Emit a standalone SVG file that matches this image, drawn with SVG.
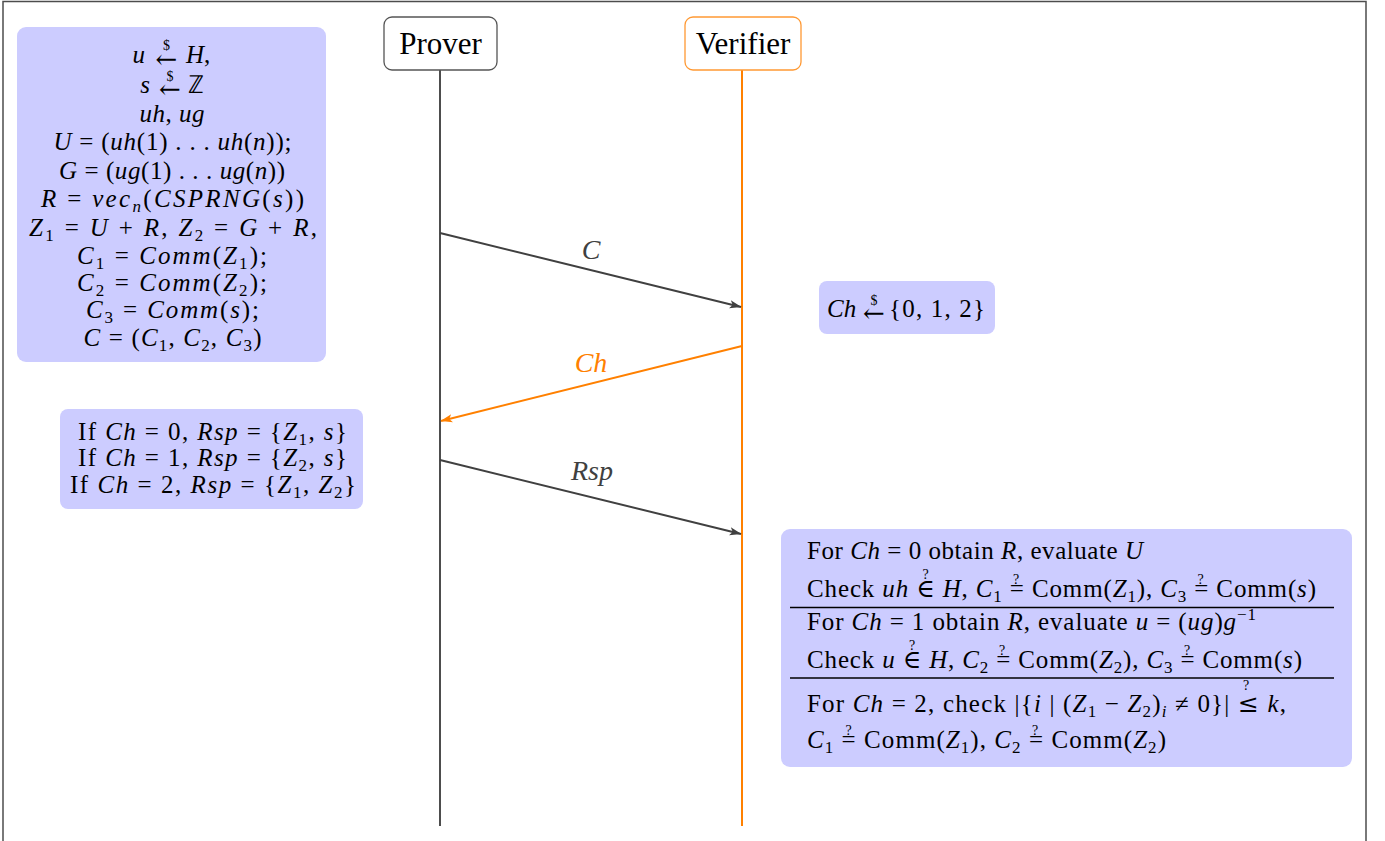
<svg xmlns="http://www.w3.org/2000/svg" width="1385" height="841" viewBox="0 0 1385 841" font-family="Liberation Serif, serif">
<defs>
<style>
.t{font-size:25px;fill:#000}
.c{text-anchor:middle}
.e{text-anchor:end}
.i{font-style:italic}
.s{font-size:17px}
.o{font-size:14px;text-anchor:middle;fill:#000}
.d{font-size:14px;text-anchor:middle;fill:#000}
.ar{font-size:26px;text-anchor:middle;fill:#000}
.box{fill:#ccccff}
.ttl{font-size:31px;fill:#000;text-anchor:middle}
.lbl{font-size:28px;font-style:italic;text-anchor:middle}
.msg{fill:none;stroke-width:2}
</style>
<marker id="ag" viewBox="0 0 12 10" refX="11.5" refY="5" markerWidth="12" markerHeight="10" markerUnits="userSpaceOnUse" orient="auto"><path d="M0,0.8 L12,5 L0,9.2 L3,5 Z" fill="#404040"/></marker>
<marker id="ao" viewBox="0 0 12 10" refX="11.5" refY="5" markerWidth="12" markerHeight="10" markerUnits="userSpaceOnUse" orient="auto"><path d="M0,0.8 L12,5 L0,9.2 L3,5 Z" fill="#ff8000"/></marker>
</defs>
<rect x="0" y="0" width="1385" height="841" fill="#fff"/>
<rect x="3" y="1.5" width="1363" height="870" fill="none" stroke="#4d4d4d" stroke-width="1.5"/>

<g id="prover">
<line x1="440" y1="70" x2="440" y2="826" stroke="#4d4d4d" stroke-width="2"/>
<rect x="384" y="17" width="113" height="53" rx="8" fill="#fff" stroke="#555" stroke-width="1.3"/>
<text class="ttl" x="440.5" y="54">Prover</text>
</g>
<g id="verifier">
<line x1="742" y1="70" x2="742" y2="826" stroke="#ff8000" stroke-width="2"/>
<rect x="685" y="17" width="116" height="53" rx="8" fill="#fff" stroke="#ff9933" stroke-width="1.3"/>
<text class="ttl" x="743" y="54">Verifier</text>
</g>

<g id="connectors">
<line class="msg" x1="440" y1="233" x2="741" y2="307" stroke="#404040" marker-end="url(#ag)"/>
<text class="lbl" x="591" y="259" fill="#404040">C</text>
<line class="msg" x1="742" y1="346" x2="441" y2="421" stroke="#ff8000" marker-end="url(#ao)"/>
<text class="lbl" x="591" y="372" fill="#ff8000">Ch</text>
<line class="msg" x1="440" y1="460" x2="741" y2="534" stroke="#404040" marker-end="url(#ag)"/>
<text class="lbl" x="592" y="480" fill="#404040">Rsp</text>
</g>

<g id="commit">
<rect class="box" x="17" y="27" width="309" height="335" rx="9"/>
<text class="t i e" x="145" y="63">u</text>
<text class="ar" x="166.5" y="68" font-family="DejaVu Serif">←</text>
<text class="d" x="166.5" y="50">$</text>
<text class="t" x="186" y="63"><tspan class="i">H</tspan>,</text>
<text class="t i e" x="150" y="93">s</text>
<text class="ar" x="170" y="98" font-family="DejaVu Serif">←</text>
<text class="d" x="170" y="80.5">$</text>
<text class="t" x="188" y="93">ℤ</text>
<text class="t c" x="172" y="122" textLength="65"><tspan class="i">uh</tspan>, <tspan class="i">ug</tspan></text>
<text class="t c" x="172.5" y="150" textLength="238"><tspan class="i">U</tspan> = (<tspan class="i">uh</tspan>(1) . . . <tspan class="i">uh</tspan>(<tspan class="i">n</tspan>));</text>
<text class="t c" x="172" y="179" textLength="226"><tspan class="i">G</tspan> = (<tspan class="i">ug</tspan>(1) . . . <tspan class="i">ug</tspan>(<tspan class="i">n</tspan>))</text>
<text class="t c" x="172.5" y="207" textLength="263"><tspan class="i">R</tspan> = <tspan class="i">vec</tspan><tspan class="s i" dy="5">n</tspan><tspan dy="-5">(</tspan><tspan class="i">CSPRNG</tspan>(<tspan class="i">s</tspan>))</text>
<text class="t c" x="173" y="236" textLength="288"><tspan class="i">Z</tspan><tspan class="s" dy="5">1</tspan><tspan dy="-5"> = </tspan><tspan class="i">U</tspan> + <tspan class="i">R</tspan>,   <tspan class="i">Z</tspan><tspan class="s" dy="5">2</tspan><tspan dy="-5"> = </tspan><tspan class="i">G</tspan> + <tspan class="i">R</tspan>,</text>
<text class="t c" x="172" y="264" textLength="190"><tspan class="i">C</tspan><tspan class="s" dy="5">1</tspan><tspan dy="-5"> = </tspan><tspan class="i">Comm</tspan>(<tspan class="i">Z</tspan><tspan class="s" dy="5">1</tspan><tspan dy="-5">);</tspan></text>
<text class="t c" x="172" y="291" textLength="190"><tspan class="i">C</tspan><tspan class="s" dy="5">2</tspan><tspan dy="-5"> = </tspan><tspan class="i">Comm</tspan>(<tspan class="i">Z</tspan><tspan class="s" dy="5">2</tspan><tspan dy="-5">);</tspan></text>
<text class="t c" x="172.5" y="318" textLength="173"><tspan class="i">C</tspan><tspan class="s" dy="5">3</tspan><tspan dy="-5"> = </tspan><tspan class="i">Comm</tspan>(<tspan class="i">s</tspan>);</text>
<text class="t c" x="172.5" y="346" textLength="178"><tspan class="i">C</tspan> = (<tspan class="i">C</tspan><tspan class="s" dy="5">1</tspan><tspan dy="-5">, </tspan><tspan class="i">C</tspan><tspan class="s" dy="5">2</tspan><tspan dy="-5">, </tspan><tspan class="i">C</tspan><tspan class="s" dy="5">3</tspan><tspan dy="-5">)</tspan></text>
</g>

<g id="challenge">
<rect class="box" x="819" y="281" width="176" height="53" rx="8"/>
<text class="t i" x="827" y="317">Ch</text>
<text class="ar" x="874" y="322" font-family="DejaVu Serif">←</text>
<text class="d" x="874" y="304.5">$</text>
<text class="t" x="889" y="317" textLength="96">{0, 1, 2}</text>
</g>

<g id="response">
<rect class="box" x="60" y="409" width="303" height="100" rx="8"/>
<text class="t c" x="212.5" y="440" textLength="269">If <tspan class="i">Ch</tspan> = 0, <tspan class="i">Rsp</tspan> = {<tspan class="i">Z</tspan><tspan class="s" dy="5">1</tspan><tspan dy="-5">, </tspan><tspan class="i">s</tspan>}</text>
<text class="t c" x="212.5" y="466" textLength="269">If <tspan class="i">Ch</tspan> = 1, <tspan class="i">Rsp</tspan> = {<tspan class="i">Z</tspan><tspan class="s" dy="5">2</tspan><tspan dy="-5">, </tspan><tspan class="i">s</tspan>}</text>
<text class="t c" x="213" y="493" textLength="286">If <tspan class="i">Ch</tspan> = 2, <tspan class="i">Rsp</tspan> = {<tspan class="i">Z</tspan><tspan class="s" dy="5">1</tspan><tspan dy="-5">, </tspan><tspan class="i">Z</tspan><tspan class="s" dy="5">2</tspan><tspan dy="-5">}</tspan></text>
</g>

<g id="verify">
<rect class="box" x="781" y="529" width="571" height="238" rx="9"/>
<line x1="790" y1="607.5" x2="1334" y2="607.5" stroke="#000" stroke-width="1.3"/>
<line x1="790" y1="678" x2="1334" y2="678" stroke="#000" stroke-width="1.3"/>
<text class="t" x="807" y="559" textLength="336">For <tspan class="i">Ch</tspan> = 0 obtain <tspan class="i">R</tspan>, evaluate <tspan class="i">U</tspan></text>
<text class="t" x="807" y="597" textLength="509">Check <tspan class="i">uh</tspan> <tspan font-family="DejaVu Serif">∈</tspan> <tspan class="i">H</tspan>, <tspan class="i">C</tspan><tspan class="s" dy="5">1</tspan><tspan dy="-5"> = Comm(</tspan><tspan class="i">Z</tspan><tspan class="s" dy="5">1</tspan><tspan dy="-5">), </tspan><tspan class="i">C</tspan><tspan class="s" dy="5">3</tspan><tspan dy="-5"> = Comm(</tspan><tspan class="i">s</tspan>)</text>
<text class="o" x="925.5" y="579">?</text>
<text class="o" x="1016" y="584">?</text>
<text class="o" x="1200.5" y="584">?</text>
<text class="t" x="807" y="630" textLength="449">For <tspan class="i">Ch</tspan> = 1 obtain <tspan class="i">R</tspan>, evaluate <tspan class="i">u</tspan> = (<tspan class="i">ug</tspan>)<tspan class="i">g</tspan><tspan class="s" dy="-10">−1</tspan></text>
<text class="t" x="807" y="668" textLength="495">Check <tspan class="i">u</tspan> <tspan font-family="DejaVu Serif">∈</tspan> <tspan class="i">H</tspan>, <tspan class="i">C</tspan><tspan class="s" dy="5">2</tspan><tspan dy="-5"> = Comm(</tspan><tspan class="i">Z</tspan><tspan class="s" dy="5">2</tspan><tspan dy="-5">), </tspan><tspan class="i">C</tspan><tspan class="s" dy="5">3</tspan><tspan dy="-5"> = Comm(</tspan><tspan class="i">s</tspan>)</text>
<text class="o" x="912" y="650">?</text>
<text class="o" x="1002" y="655">?</text>
<text class="o" x="1187" y="655">?</text>
<text class="t" x="807" y="712" textLength="479">For <tspan class="i">Ch</tspan> = 2, check |{<tspan class="i">i</tspan> | (<tspan class="i">Z</tspan><tspan class="s" dy="5">1</tspan><tspan dy="-5"> − </tspan><tspan class="i">Z</tspan><tspan class="s" dy="5">2</tspan><tspan dy="-5">)</tspan><tspan class="s i" dy="5">i</tspan><tspan dy="-5"> ≠ 0}| </tspan><tspan font-family="DejaVu Serif">≤</tspan> <tspan class="i">k</tspan>,</text>
<text class="o" x="1246" y="690">?</text>
<text class="t" x="807" y="748" textLength="359"><tspan class="i">C</tspan><tspan class="s" dy="5">1</tspan><tspan dy="-5"> = Comm(</tspan><tspan class="i">Z</tspan><tspan class="s" dy="5">1</tspan><tspan dy="-5">), </tspan><tspan class="i">C</tspan><tspan class="s" dy="5">2</tspan><tspan dy="-5"> = Comm(</tspan><tspan class="i">Z</tspan><tspan class="s" dy="5">2</tspan><tspan dy="-5">)</tspan></text>
<text class="o" x="848.5" y="735">?</text>
<text class="o" x="1035" y="735">?</text>
</g>
</svg>
